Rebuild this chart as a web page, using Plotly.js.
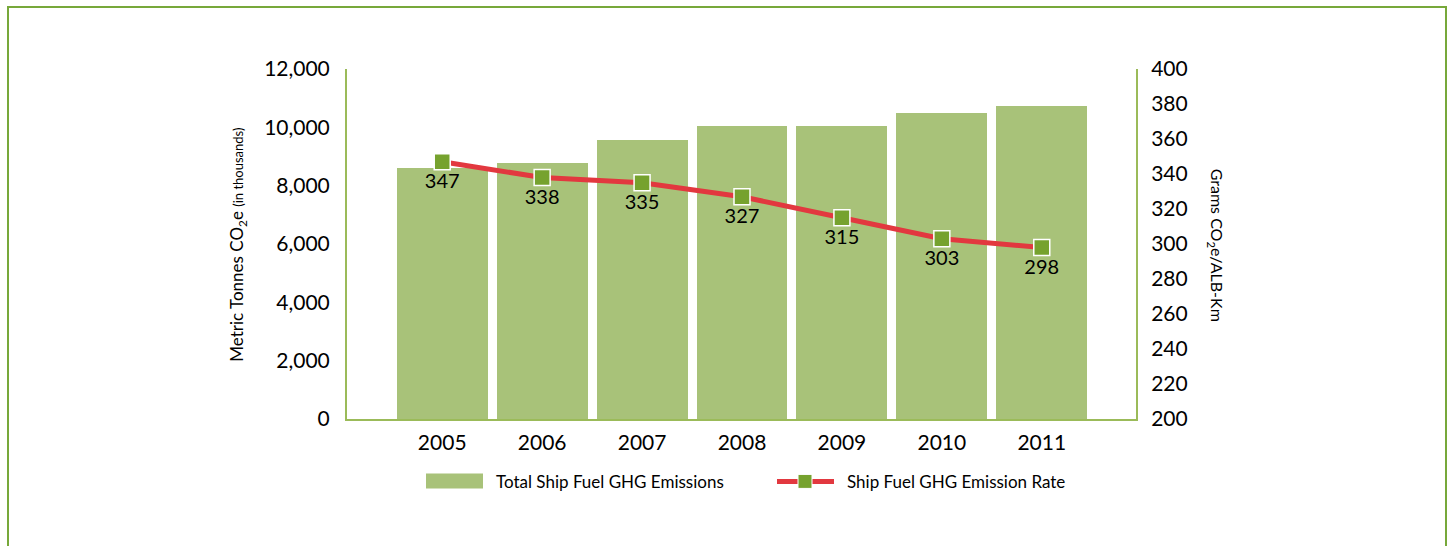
<!DOCTYPE html>
<html>
<head>
<meta charset="utf-8">
<script src="https://cdn.plot.ly/plotly-3.0.1.min.js"></script>
<style>
html,body{margin:0;padding:0;background:#fff;}
#chart{width:1450px;height:546px;}
</style>
</head>
<body>
<div id="chart"></div>
<script>
const years = ['2005','2006','2007','2008','2009','2010','2011'];
const totalEmissions = [8600, 8770, 9555, 10035, 10035, 10480, 10720];
const emissionRate = [347, 338, 335, 327, 315, 303, 298];
const barName = 'Total Ship Fuel GHG Emissions';
const lineName = 'Ship Fuel GHG Emission Rate';

const FONT = 'Lato, "Open Sans", sans-serif';
const barColor = '#a8c279';
const lineColor = '#e2383f';
const markerColor = '#76a22e';
const axisColor = '#9bbb59';
const frameColor = '#77a83a';

// plot area geometry in pixels
const L = 347, R = 1136, T = 69, B = 419.5, W = 1450, H = 546;
const pw = R - L, ph = B - T;
const px = x => (x - L) / pw;
const py = y => (B - y) / ph;

const traces = [
  {
    type: 'bar', x: years, y: totalEmissions, name: barName,
    marker: {color: barColor}, width: 0.91, showlegend: false,
    hoverinfo: 'x+y'
  },
  {
    type: 'scatter', mode: 'lines+markers+text', x: years, y: emissionRate,
    yaxis: 'y2', name: lineName, showlegend: false,
    line: {color: lineColor, width: 5},
    marker: {symbol: 'square', size: 16, color: markerColor, line: {color: '#ffffff', width: 1.5}},
    text: emissionRate.map(String), textposition: 'bottom center',
    textfont: {family: FONT, size: 20, color: '#000'}
  }
];

const layout = {
  width: W, height: H,
  margin: {l: L, r: W - R, t: T, b: H - B},
  paper_bgcolor: '#fff', plot_bgcolor: 'rgba(0,0,0,0)',
  font: {family: FONT, color: '#000'},
  bargap: 0,
  xaxis: {
    type: 'category', range: [-0.953, 6.943], showgrid: false, zeroline: false,
    showline: true, linecolor: axisColor, linewidth: 2, ticks: '',
    tickfont: {family: FONT, size: 21, color: '#000'}, ticklabelstandoff: 4,
    fixedrange: true
  },
  yaxis: {
    range: [0, 12000], dtick: 2000, tickformat: ',d', showgrid: false, zeroline: false,
    showline: true, linecolor: axisColor, linewidth: 2, ticks: '',
    tickfont: {family: FONT, size: 21, color: '#000'}, ticklabelstandoff: 11
  },
  yaxis2: {
    range: [200, 400], dtick: 20, overlaying: 'y', side: 'right', showgrid: false, zeroline: false,
    showline: true, linecolor: axisColor, linewidth: 2, ticks: '',
    tickfont: {family: FONT, size: 21, color: '#000'}, ticklabelstandoff: 9
  },
  shapes: [
    // outer frame
    {type: 'rect', xref: 'paper', yref: 'paper', x0: px(8), x1: px(1446), y0: py(600), y1: py(7),
     line: {color: frameColor, width: 2}, fillcolor: 'rgba(0,0,0,0)', layer: 'below'},
    // legend: bar swatch
    {type: 'rect', xref: 'paper', yref: 'paper', x0: px(426), x1: px(483), y0: py(489), y1: py(474),
     fillcolor: barColor, line: {width: 0}},
    // legend: line swatch
    {type: 'line', xref: 'paper', yref: 'paper', x0: px(777), x1: px(834), y0: py(482), y1: py(482),
     line: {color: lineColor, width: 5}},
    {type: 'rect', xref: 'paper', yref: 'paper', x0: px(798), x1: px(812), y0: py(489), y1: py(475),
     fillcolor: markerColor, line: {color: '#ffffff', width: 1}}
  ],
  annotations: [
    {xref: 'paper', yref: 'paper', x: px(238), y: py(245), xanchor: 'center', yanchor: 'middle',
     textangle: -90, showarrow: false,
     text: 'Metric Tonnes CO<sub>2</sub>e <span style="font-size:13px">(in thousands)</span>',
     font: {family: FONT, size: 17, color: '#000'}},
    {xref: 'paper', yref: 'paper', x: px(1216), y: py(245), xanchor: 'center', yanchor: 'middle',
     textangle: 90, showarrow: false,
     text: 'Grams CO<sub>2</sub>e/ALB-Km',
     font: {family: FONT, size: 16, color: '#000'}},
    {xref: 'paper', yref: 'paper', x: px(494), y: py(482), xanchor: 'left', yanchor: 'middle',
     showarrow: false, text: barName, font: {family: FONT, size: 17, color: '#000'}},
    {xref: 'paper', yref: 'paper', x: px(845), y: py(482), xanchor: 'left', yanchor: 'middle',
     showarrow: false, text: lineName, font: {family: FONT, size: 17, color: '#000'}}
  ]
};

Plotly.newPlot('chart', traces, layout, {displayModeBar: false, staticPlot: false});
</script>
</body>
</html>
